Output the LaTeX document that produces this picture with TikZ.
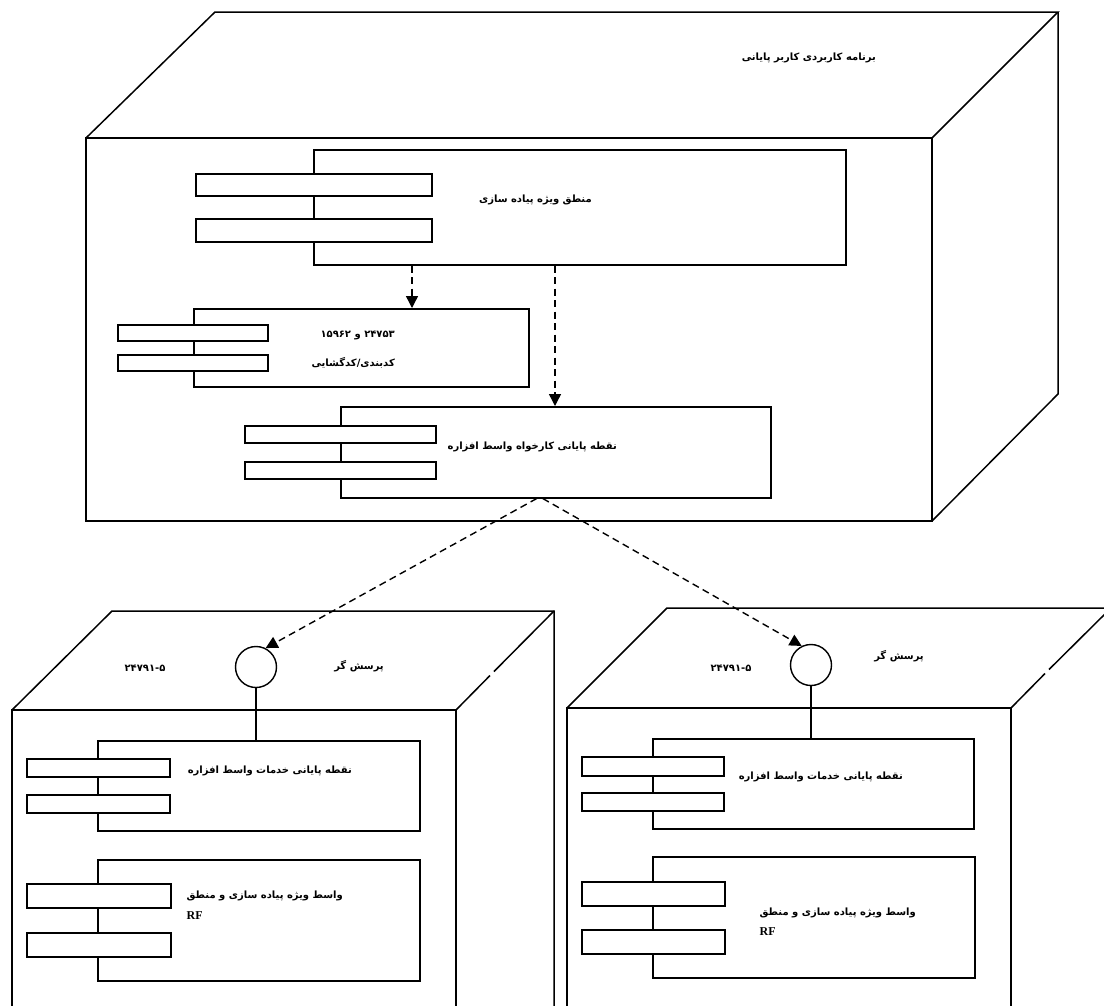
\documentclass[tikz,border=0pt]{standalone}
\usepackage{fontspec}
\usetikzlibrary{arrows.meta}
\TeXXeTstate=1
\newfontfamily\fa[Script=Arabic]{DejaVu Sans}
\setmainfont{Liberation Serif}

\tikzset{
  edge/.style={line width=1.5pt, line join=miter},
  comp/.style={draw, fill=white, line width=1.5pt, inner sep=0pt, anchor=north west},
  port/.style={draw, fill=white, line width=1.5pt, inner sep=0pt, anchor=north west},
  iface/.style={draw, fill=white, circle, line width=1.4pt, minimum size=41pt, inner sep=0pt},
  dep/.style={line width=1.4pt, dash pattern=on 7pt off 4.5pt, -{Triangle[length=12pt,width=12pt]}},
  lbl/.style={font=\fa\bfseries\fontsize{10}{12}\selectfont, inner sep=0pt},
  lat/.style={font=\bfseries\fontsize{12}{14}\selectfont, inner sep=0pt}
}

\begin{document}
\begin{tikzpicture}[x=1pt,y=-1pt]
\clip (0,0) rectangle (1104,1005);
\fill[white] (0,0) rectangle (1104,1005);

% ---------- device: end-user application ----------
\draw[edge] (86,138) rectangle (932,521);
\draw[edge] (86,138) -- (215,12) -- (1058,12) -- (932,138);
\draw[edge] (1058,12) -- (1058,394) -- (932,521);
\node[lbl, anchor=east] (title) at (876,58) {\beginR برنامه کاربردی کاربر پایانی\endR};

% implementation specific logic
\node[comp, minimum width=532pt, minimum height=115pt] (A) at (313,149) {};
\node[port, minimum width=236pt, minimum height=22pt] (A1) at (195,173) {};
\node[port, minimum width=236pt, minimum height=23pt] (A2) at (195,218) {};
\node[lbl, anchor=east] (Al) at (592,200) {\beginR منطق ویژه پیاده سازی\endR};

% encoding / decoding
\node[comp, minimum width=335pt, minimum height=78pt] (B) at (193,308) {};
\node[port, minimum width=150pt, minimum height=16pt] (B1) at (117,324) {};
\node[port, minimum width=150pt, minimum height=16pt] (B2) at (117,354) {};
\node[lbl, anchor=east] (Bl1) at (395,335) {\beginR ۲۴۷۵۳ و ۱۵۹۶۲\endR};
\node[lbl, anchor=east] (Bl2) at (395,363) {\beginR کدبندی/کدگشایی\endR};

% client endpoint
\node[comp, minimum width=430pt, minimum height=91pt] (C) at (340,406) {};
\node[port, minimum width=191pt, minimum height=17pt] (C1) at (244,425) {};
\node[port, minimum width=191pt, minimum height=17pt] (C2) at (244,461) {};
\node[lbl, anchor=east] (Cl) at (617,447) {\beginR نقطه پایانی کارخواه واسط افزاره\endR};

% ---------- device: interrogator (left) ----------
\draw[edge] (12,1010) -- (12,710) -- (456,710) -- (456,1010);
\draw[edge] (12,710) -- (112,611) -- (554,611) -- (554,1010);
\draw[edge] (456,710) -- (490,675.5);
\draw[edge] (494,671.5) -- (554,611);
\node[lbl] (Ln) at (145,668) {۲۴۷۹۱-۵};
\node[lbl] (Lq) at (359,666) {\beginR پرسش گر\endR};
\node[iface] (Li) at (256,667) {};

\node[comp, minimum width=322pt, minimum height=90pt] (D) at (97,740) {};
\node[port, minimum width=143pt, minimum height=18pt] (D1) at (26,758) {};
\node[port, minimum width=143pt, minimum height=18pt] (D2) at (26,794) {};
\node[lbl, anchor=east] (Dl) at (352,771) {\beginR نقطه پایانی خدمات واسط افزاره\endR};

\node[comp, minimum width=322pt, minimum height=121pt] (E) at (97,859) {};
\node[port, minimum width=144pt, minimum height=24pt] (E1) at (26,883) {};
\node[port, minimum width=144pt, minimum height=24pt] (E2) at (26,932) {};
\node[lbl, anchor=east] (El) at (343,896) {\beginR واسط ویژه پیاده سازی و منطق\endR};
\node[lat, anchor=west] (Er) at ([yshift=-20pt]El.west) {RF};

\draw[line width=1.4pt] (Li.south) -- (D.north -| Li);

% ---------- device: interrogator (right) ----------
\draw[edge] (567,1010) -- (567,708) -- (1011,708) -- (1011,1010);
\draw[edge] (567,708) -- (667,608) -- (1110,608);
\draw[edge] (1011,708) -- (1045,673.5);
\draw[edge] (1049,669.5) -- (1111,608);
\node[lbl] (Rn) at (731,668) {۲۴۷۹۱-۵};
\node[lbl] (Rq) at (899,656) {\beginR پرسش گر\endR};
\node[iface] (Ri) at (811,665) {};

\node[comp, minimum width=321pt, minimum height=90pt] (F) at (652,738) {};
\node[port, minimum width=142pt, minimum height=19pt] (F1) at (581,756) {};
\node[port, minimum width=142pt, minimum height=18pt] (F2) at (581,792) {};
\node[lbl, anchor=east] (Fl) at (903,777) {\beginR نقطه پایانی خدمات واسط افزاره\endR};

\node[comp, minimum width=322pt, minimum height=121pt] (G) at (652,856) {};
\node[port, minimum width=143pt, minimum height=24pt] (G1) at (581,881) {};
\node[port, minimum width=143pt, minimum height=24pt] (G2) at (581,929) {};
\node[lbl, anchor=east] (Gl) at (916,913) {\beginR واسط ویژه پیاده سازی و منطق\endR};
\node[lat, anchor=west] (Gr) at ([yshift=-19pt]Gl.west) {RF};

\draw[line width=1.4pt] (Ri.south) -- (F.north -| Ri);

% ---------- dependencies ----------
\coordinate (xa) at (412,0);
\coordinate (xb) at (555,0);
\draw[dep] (A.south -| xa) -- (B.north -| xa);
\draw[dep] (A.south -| xb) -- (C.north -| xb);
\draw[dep] ([xshift=-19pt]C.south) -- (Li.63);
\draw[dep] ([xshift=-13pt]C.south) -- (Ri.116);
\end{tikzpicture}
\end{document}
